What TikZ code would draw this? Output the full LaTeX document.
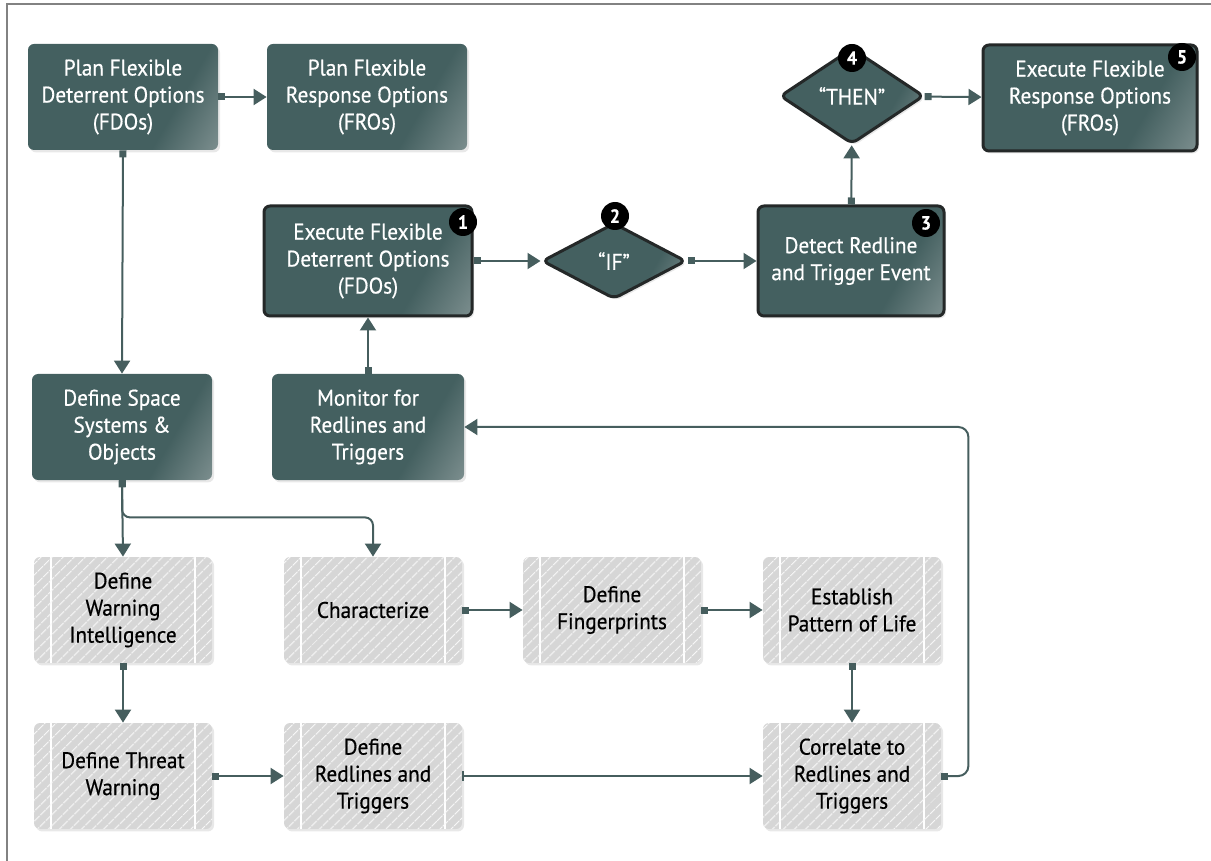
\documentclass[tikz,border=0pt]{standalone}
\usepackage{fontspec}
\setmainfont{PT Sans}[FakeStretch=0.94, FakeBold=0.5]
\usetikzlibrary{shapes.geometric,arrows.meta,shadows,patterns.meta}

\definecolor{slate}{RGB}{68,96,96}
\definecolor{slatelight}{RGB}{172,182,182}
\definecolor{keyedge}{RGB}{36,40,40}
\definecolor{hatchgray}{RGB}{214,214,214}
\definecolor{linkcol}{RGB}{70,94,94}
\definecolor{framegray}{RGB}{130,130,130}

\pgfdeclarehorizontalshading{slateshade}{100bp}{color(0bp)=(slate); color(66bp)=(slate); color(100bp)=(slatelight)}

\tikzset{
  softshadow/.style={drop shadow={opacity=0.18, shadow xshift=1pt, shadow yshift=-1.2pt}},
  boxfont/.style={font=\fontsize{11.3}{13.5}\selectfont},
  darkbox/.style={rectangle, rounded corners=3pt, shading=slateshade, shading angle=-30, softshadow, text=white, align=center, minimum width=95pt, minimum height=53pt, inner sep=2pt, boxfont},
  keybox/.style={darkbox, draw=keyedge, line width=1.5pt},
  hatchbox/.style={rectangle, rounded corners=3pt, fill=hatchgray, softshadow,
    postaction={pattern={Lines[angle=45,distance=4pt,line width=0.6pt]}, pattern color=white!85!hatchgray},
    path picture={\draw[white, line width=0.8pt]
      ([xshift=8.5pt]path picture bounding box.north west) -- ([xshift=8.5pt]path picture bounding box.south west)
      ([xshift=-8.5pt]path picture bounding box.north east) -- ([xshift=-8.5pt]path picture bounding box.south east);},
    text=black, align=center, minimum width=89pt, minimum height=53pt, inner sep=2pt, boxfont},
  decision/.style={diamond, rounded corners=3pt, shading=slateshade, shading angle=-30, draw=keyedge, line width=1.5pt, softshadow, text=white, inner sep=0pt, boxfont},
  numdot/.style={circle, fill=black, text=white, font=\bfseries\fontsize{9.5}{9.5}\selectfont, inner sep=0pt, minimum size=14pt},
  link/.style={draw=linkcol, line width=1pt, {Square[length=3.5pt,width=3.5pt]}-{Triangle[length=6.5pt,width=8pt]}},
  linkbar/.style={draw=linkcol, line width=1pt, {Bar[width=5pt,line width=0.6pt]}-{Triangle[length=6.5pt,width=8pt]}}
}

\begin{document}
\begin{tikzpicture}[x=0.5pt,y=-0.5pt]
    \useasboundingbox (0,0) rectangle (1211,861);
    \draw[framegray, line width=0.8pt] (7,861) -- (7,4) -- (1211,4);

    \node[darkbox] (planfdo) at (123,97) {Plan Flexible\\Deterrent Options\\(FDOs)};
    \node[darkbox, minimum width=100pt] (planfro) at (367,97) {Plan Flexible\\Response Options\\(FROs)};
    \node[keybox, minimum width=104pt, minimum height=55pt] (execfdo) at (368,261) {Execute Flexible\\Deterrent Options\\(FDOs)};
    \node[decision, minimum width=72pt, minimum height=38pt] (ifdec) at (614,261) {“IF”};
    \node[keybox, minimum width=93pt, minimum height=55pt] (detect) at (851,261) {Detect Redline\\and Trigger Event};
    \node[decision, minimum width=72pt, minimum height=48pt] (thendec) at (852,96) {“THEN”};
    \node[keybox, minimum width=107pt, minimum height=53pt] (execfro) at (1090,98) {Execute Flexible\\Response Options\\(FROs)};

    \node[darkbox, minimum width=90pt] (space) at (122,427) {Define Space\\Systems \&\\Objects};
    \node[darkbox, minimum width=96pt] (monitor) at (368,427) {Monitor for\\Redlines and\\Triggers};

    \node[hatchbox] (warning) at (123,610) {Define\\Warning\\Intelligence};
    \node[hatchbox] (charact) at (373,610) {Characterize};
    \node[hatchbox] (finger) at (612,610) {Define\\Fingerprints};
    \node[hatchbox] (lifepat) at (852,610) {Establish\\Pattern of Life};
    \node[hatchbox] (threat) at (123,776) {Define Threat\\Warning};
    \node[hatchbox] (redlines) at (373,776) {Define\\Redlines and\\Triggers};
    \node[hatchbox] (correlate) at (852,776) {Correlate to\\Redlines and\\Triggers};

    \node[numdot] (n1) at (463,222) {1};
    \node[numdot] (n2) at (615,216) {2};
    \node[numdot] (n3) at (926,223) {3};
    \node[numdot] (n4) at (852,58) {4};
    \node[numdot] (n5) at (1182,57) {5};

    \draw[link] (planfdo) -- (planfro);
    \draw[link] (planfdo.south) -- (space.north);
    \draw[link] (space.south) -- (warning.north);
    \draw[link, rounded corners=4pt] (space.south) -- ++(0,37) -| (charact.north);
    \draw[link] (warning.south) -- (threat.north);
    \draw[link] (threat) -- (redlines);
    \draw[linkbar] (redlines) -- (correlate);
    \draw[link] (charact) -- (finger);
    \draw[link] (finger) -- (lifepat);
    \draw[link] (lifepat) -- (correlate);
    \draw[link, rounded corners=5pt] (correlate.east) -- ++(27,0) |- (monitor.east);
    \draw[link] (monitor) -- (execfdo);
    \draw[link] (execfdo) -- (ifdec);
    \draw[link] (ifdec) -- (detect);
    \draw[link] (detect) -- (thendec);
    \draw[link] (thendec) -- (execfro);
\end{tikzpicture}
\end{document}
